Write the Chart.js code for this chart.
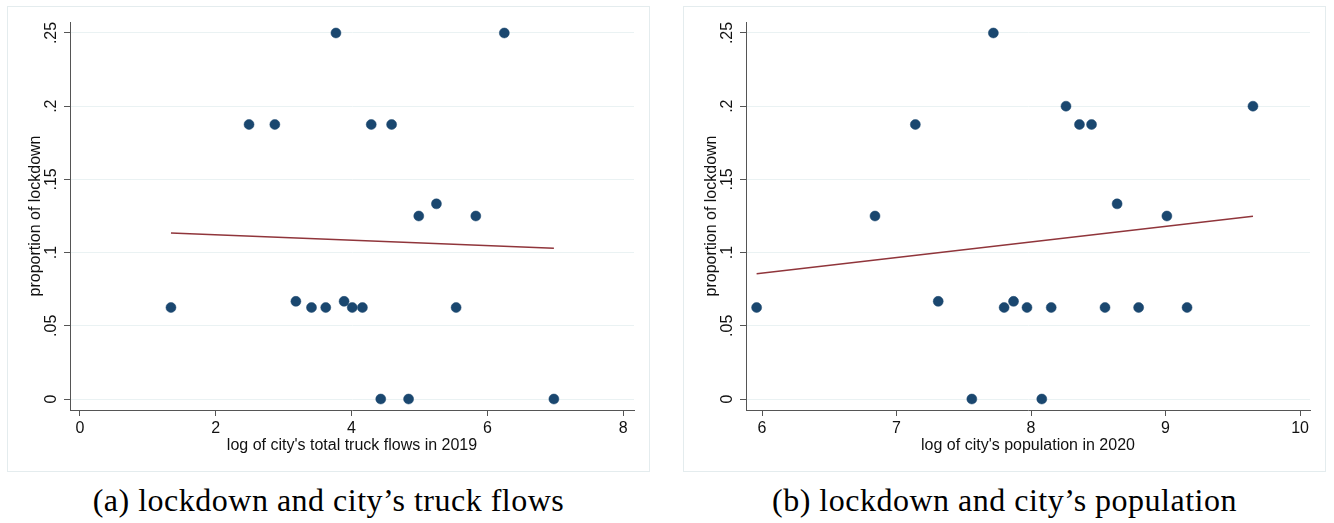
<!DOCTYPE html>
<html><head><meta charset="utf-8">
<script src="https://cdn.jsdelivr.net/npm/chart.js@4.4.1/dist/chart.umd.min.js"></script>
<style>
body{margin:0;background:#fff;width:1334px;height:523px;position:relative;overflow:hidden;}
.frame{position:absolute;top:6px;width:643px;height:466px;box-sizing:border-box;border:1px solid #e4ecee;}
.frame canvas{position:absolute;left:-1px;top:-1px;}
.cap{position:absolute;top:484px;font-family:"Liberation Serif","Times New Roman",serif;font-size:32px;line-height:32px;letter-spacing:0.5px;color:#000;text-align:center;width:643px;white-space:nowrap;}
</style></head>
<body>
<div class="frame" style="left:7px"><canvas id="c1" width="643" height="466"></canvas></div>
<div class="frame" style="left:683px"><canvas id="c2" width="643" height="466"></canvas></div>
<div class="cap" style="left:7px">(a) lockdown and city’s truck flows</div>
<div class="cap" style="left:683px">(b) lockdown and city’s population</div>
<script>
// ---- data ----
const truckX = [1.34, 2.49, 2.87, 3.77, 4.29, 4.59, 3.18, 3.41, 3.62, 3.89, 4.01, 4.16, 4.43, 4.84, 4.99, 5.25, 5.54, 5.83, 6.25, 6.98];
const truckY = [0.0625, 0.1875, 0.1875, 0.25, 0.1875, 0.1875, 0.0667, 0.0625, 0.0625, 0.0667, 0.0625, 0.0625, 0, 0, 0.125, 0.1333, 0.0625, 0.125, 0.25, 0];
const truckFitX = [1.34, 6.98];
const truckFitY = [0.1134, 0.1030];

const popX = [5.96, 6.84, 7.14, 7.31, 7.56, 7.72, 7.80, 7.87, 7.97, 8.08, 8.15, 8.26, 8.36, 8.45, 8.55, 8.64, 8.80, 9.01, 9.16, 9.65];
const popY = [0.0625, 0.125, 0.1875, 0.0667, 0, 0.25, 0.0625, 0.0667, 0.0625, 0, 0.0625, 0.2, 0.1875, 0.1875, 0.0625, 0.1333, 0.0625, 0.125, 0.0625, 0.2];
const popFitX = [5.96, 9.65];
const popFitY = [0.0855, 0.1248];

const yTickValues = [0, 0.05, 0.1, 0.15, 0.2, 0.25];
const yTickLabels = ['0', '.05', '.1', '.15', '.2', '.25'];
const truckTicks = [0, 2, 4, 6, 8];
const popTicks = [6, 7, 8, 9, 10];

const yTitle = 'proportion of lockdown';
const truckTitle = "log of city's total truck flows in 2019";
const popTitle = "log of city's population in 2020";

// ---- drawing ----
const font16 = {family: "'Liberation Sans', Arial, sans-serif", size: 16};
const axisGray = '#555555';
const textCol = '#111111';

function makeChart(id, xs, ys, fx, fy, xTicks, xMin, xMax, xTitle) {
  const pts = xs.map((x, i) => ({x: x, y: ys[i]}));
  const fit = fx.map((x, i) => ({x: x, y: fy[i]}));
  return new Chart(document.getElementById(id), {
    type: 'scatter',
    data: {datasets: [
      {data: fit, showLine: true, borderColor: '#90353b', borderWidth: 1.5, pointRadius: 0, fill: false},
      {data: pts, backgroundColor: '#1a476f', borderColor: '#1a476f', pointRadius: 5, borderWidth: 0.5}
    ]},
    options: {
      responsive: false, animation: false, events: [],
      layout: {padding: {left: 0, top: 16, right: 16, bottom: 16.4}},
      plugins: {legend: {display: false}, tooltip: {enabled: false}},
      scales: {
        x: {
          type: 'linear', min: xMin, max: xMax,
          afterBuildTicks: s => { s.ticks = xTicks.map(v => ({value: v})); },
          afterFit: s => { s.height = 45.6; },
          ticks: {font: font16, color: textCol, padding: 3, maxRotation: 0, autoSkip: false},
          grid: {drawOnChartArea: false, drawTicks: true, tickLength: 6, tickColor: axisGray, color: axisGray},
          border: {display: true, color: axisGray, width: 1},
          title: {display: true, text: xTitle, font: font16, color: textCol, padding: {top: 0, bottom: 0}}
        },
        y: {
          type: 'linear', min: -0.0075, max: 0.2575,
          afterBuildTicks: s => { s.ticks = yTickValues.map(v => ({value: v})); },
          afterFit: s => { s.width = 63; },
          ticks: {
            font: font16, color: textCol, padding: 1, minRotation: 90, maxRotation: 90,
            autoSkip: false, crossAlign: 'center',
            callback: v => { const k = yTickValues.indexOf(v); return k >= 0 ? yTickLabels[k] : ''; }
          },
          grid: {color: '#eaf2f3', lineWidth: 1, drawTicks: true, tickLength: 6, tickColor: axisGray},
          border: {display: true, color: axisGray, width: 1},
          title: {display: true, text: yTitle, font: font16, color: textCol, padding: {top: 19.4, bottom: 0}}
        }
      }
    }
  });
}

makeChart('c1', truckX, truckY, truckFitX, truckFitY, truckTicks, -0.147, 8.16, truckTitle);
makeChart('c2', popX, popY, popFitX, popFitY, popTicks, 5.881, 10.074, popTitle);
</script>
</body></html>
